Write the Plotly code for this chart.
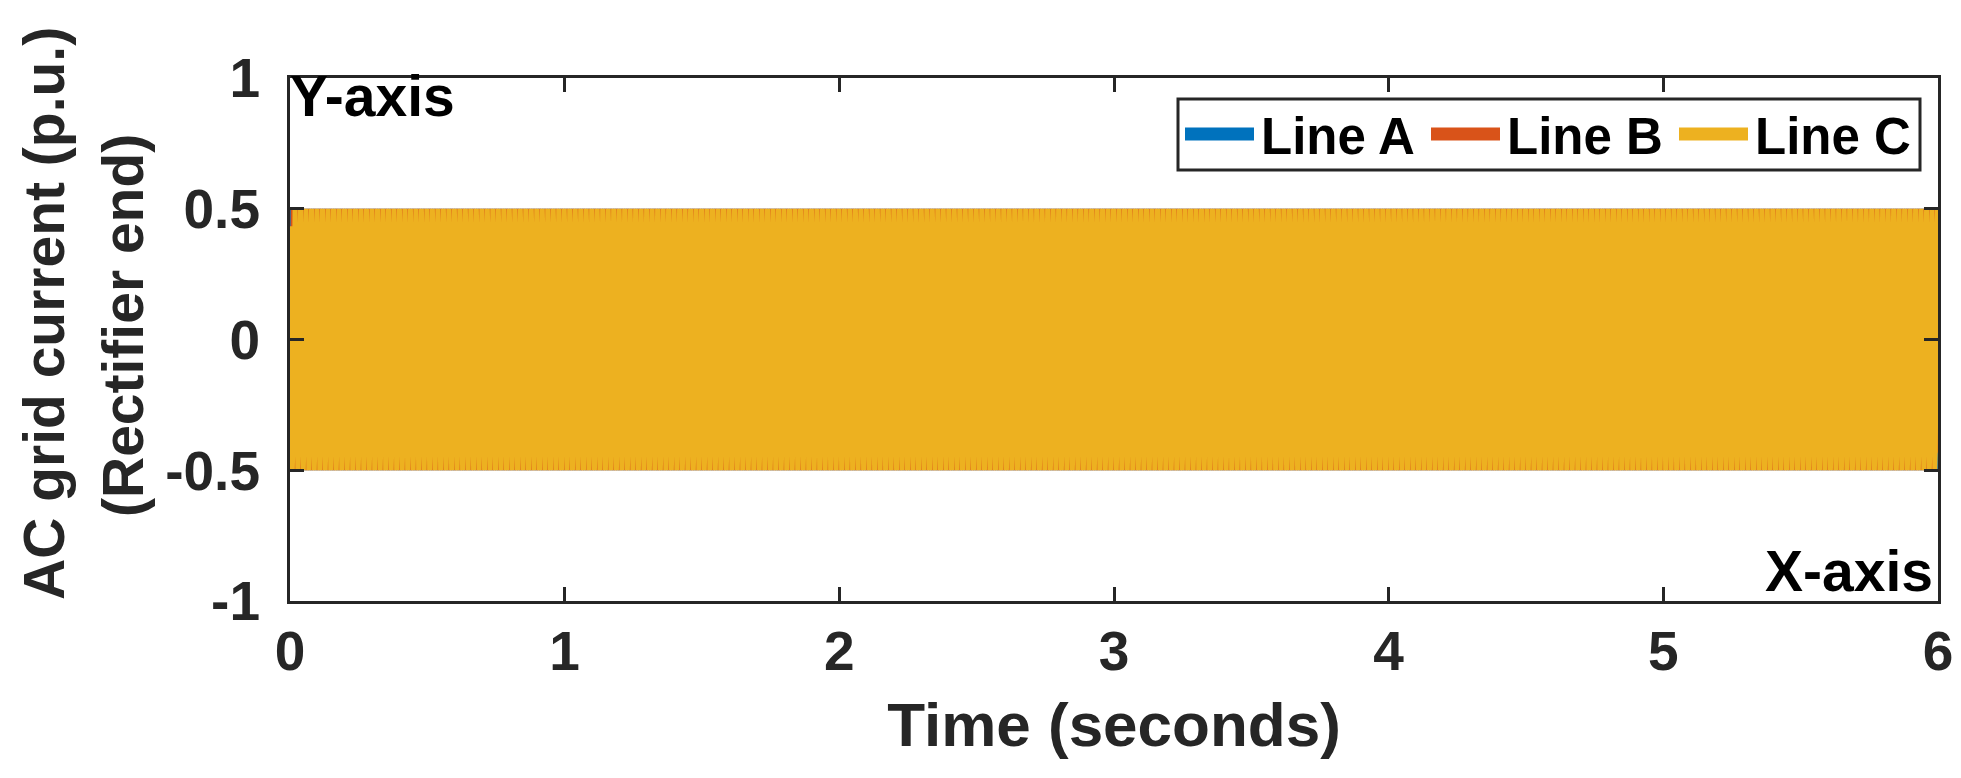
import plotly.graph_objects as go

# ---- data ----
series_names = ["Line A", "Line B", "Line C"]
series_colors = ["#0072BD", "#D95319", "#EDB120"]
# one cycle of phase-A current (p.u.), peak about 0.5, sampled 12 times per cycle
cycle_a = [0.0, 0.25, 0.433, 0.5, 0.433, 0.25, 0.0, -0.25, -0.433, -0.5, -0.433, -0.25]
phase_shift_samples = [0, 4, 8]     # 0, 120, 240 degrees
cycles_count = 300                  # 50 Hz over 6 s
t_end = 6.0
x_ticks = [0, 1, 2, 3, 4, 5, 6]
y_ticks = [-1, -0.5, 0, 0.5, 1]
y_tick_labels = ["-1", "-0.5", "0", "0.5", "1"]

n_per = len(cycle_a)
n_total = n_per * cycles_count
time = [t_end * i / n_total for i in range(n_total + 1)]

FONT = "Liberation Sans, Arial, sans-serif"
AX = "#262626"
W, H = 1961, 778
L, R, T, B = 282, 31, 70, 185
PW, PH = W - L - R, H - T - B


def px(xpix):
    return (xpix - L) / PW


def py(ypix):
    return (H - B - ypix) / PH


fig = go.Figure()
for name, col, sh in zip(series_names, series_colors, phase_shift_samples):
    vals = [cycle_a[(i - sh) % n_per] for i in range(n_total + 1)]
    fig.add_trace(go.Scatter(x=time, y=vals, mode="lines", name=name,
                             line=dict(color=col, width=5), showlegend=False))

axis_common = dict(showgrid=False, zeroline=False, showline=True, linecolor=AX,
                   linewidth=3, mirror="ticks", ticks="inside", ticklen=14,
                   tickwidth=2.5, tickcolor=AX,
                   tickfont=dict(family=FONT, size=55, color=AX, weight="bold"))

fig.update_layout(
    width=W, height=H,
    paper_bgcolor="white", plot_bgcolor="white",
    margin=dict(l=L, r=R, t=T, b=B),
    font=dict(family=FONT, color=AX),
    showlegend=False,
    xaxis=dict(range=[0, 6], tickvals=x_ticks, ticklabelstandoff=0, **axis_common,
               title=dict(text="Time (seconds)",
                          font=dict(size=62, family=FONT, color=AX, weight="bold"),
                          standoff=22)),
    yaxis=dict(range=[-1, 1], tickvals=y_ticks, ticktext=y_tick_labels,
               ticklabelstandoff=16, **axis_common),
)

# y axis title: two rotated lines
fig.add_annotation(text="AC grid current (p.u.)", textangle=-90, x=px(36), y=py(306),
                   xref="paper", yref="paper", showarrow=False, xanchor="center", yanchor="middle",
                   font=dict(size=57, family=FONT, color=AX, weight="bold"))
fig.add_annotation(text="(Rectifier end)", textangle=-90, x=px(115), y=py(318),
                   xref="paper", yref="paper", showarrow=False, xanchor="center", yanchor="middle",
                   font=dict(size=57, family=FONT, color=AX, weight="bold"))

# corner labels
fig.add_annotation(text="Y-axis", x=px(280), y=py(54), xref="paper", yref="paper",
                   xanchor="left", yanchor="top", showarrow=False,
                   font=dict(size=57, family=FONT, color="black", weight="bold"))
fig.add_annotation(text="X-axis", x=px(1927), y=py(597), xref="paper", yref="paper",
                   xanchor="right", yanchor="bottom", showarrow=False,
                   font=dict(size=57, family=FONT, color="black", weight="bold"))

# legend drawn as box, sample lines and labels
fig.add_shape(type="rect", xref="paper", yref="paper",
              x0=px(1170), x1=px(1912), y0=py(162), y1=py(91),
              line=dict(color=AX, width=3), fillcolor="white", layer="above")
sample_x = [1177, 1423, 1671]
for name, col, sx in zip(series_names, series_colors, sample_x):
    fig.add_shape(type="line", xref="paper", yref="paper",
                  x0=px(sx), x1=px(sx + 69), y0=py(126), y1=py(126),
                  line=dict(color=col, width=13), layer="above")
    fig.add_annotation(text=name, x=px(sx + 74), y=py(128), xref="paper", yref="paper",
                       xanchor="left", yanchor="middle", showarrow=False,
                       font=dict(size=51, family=FONT, color="black", weight="bold"))

fig.write_html("out.html")
